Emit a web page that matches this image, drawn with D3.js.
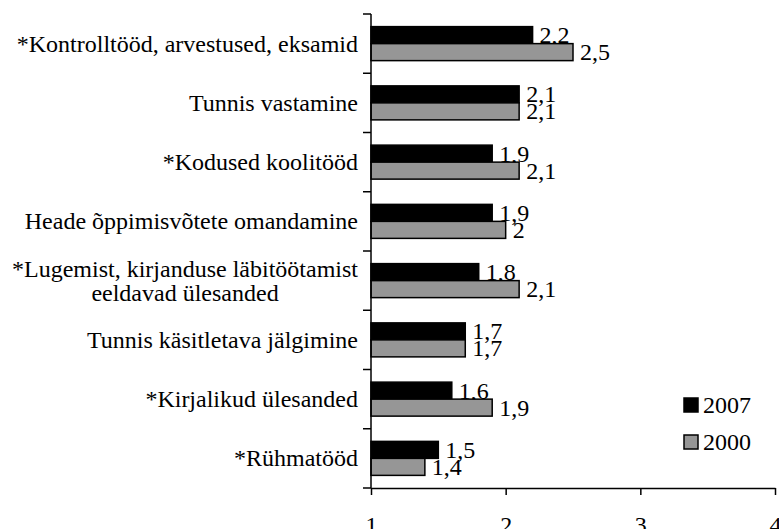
<!DOCTYPE html>
<html>
<head>
<meta charset="utf-8">
<script src="https://cdn.jsdelivr.net/npm/d3@7"></script>
</head>
<body style="margin:0">
<svg id="s" width="779" height="529"></svg>
<script>
const categories = [
  ["*Kontrolltööd, arvestused, eksamid"],
  ["Tunnis vastamine"],
  ["*Kodused koolitööd"],
  ["Heade õppimisvõtete omandamine"],
  ["*Lugemist, kirjanduse läbitöötamist", "eeldavad ülesanded"],
  ["Tunnis käsitletava jälgimine"],
  ["*Kirjalikud ülesanded"],
  ["*Rühmatööd"]
];
const values2007 = [2.2, 2.1, 1.9, 1.9, 1.8, 1.7, 1.6, 1.5];
const values2000 = [2.5, 2.1, 2.1, 2.0, 2.1, 1.7, 1.9, 1.4];
const seriesNames = ["2007", "2000"];
const seriesColors = ["#000000", "#969696"];
const xTicks = [1, 2, 3, 4];

const fontSize = 24;
const FONT = "Liberation Serif";
const svg = d3.select("#s");

function serif(sel) {
  return sel.attr("font-family", FONT)
    .attr("font-size", fontSize)
    .style("font-family", "'Liberation Serif', 'Times New Roman', Tinos", "important")
    .style("font-size", fontSize + "px", "important");
}

const x = d3.scaleLinear().domain([1, 4]).range([371, 775]);
const idx = d3.range(categories.length);
const y = d3.scaleBand().domain(idx).range([14, 488]).paddingInner(0).paddingOuter(0);
const barH = 17;

const fmt = v => String(v).replace(".", ",");

// bars
const series = [values2007, values2000];
series.forEach((vals, s) => {
  const g = svg.append("g");
  g.selectAll("rect").data(vals).join("rect")
    .attr("x", x(1))
    .attr("y", (d, i) => y(i) + (y.bandwidth() - 2 * barH) / 2 + s * barH)
    .attr("width", d => x(d) - x(1))
    .attr("height", barH)
    .attr("fill", seriesColors[s])
    .attr("stroke", "#000")
    .attr("stroke-width", 1.5);
  const t = g.selectAll("text").data(vals).join("text")
    .attr("x", d => x(d) + 7)
    .attr("y", (d, i) => y(i) + (y.bandwidth() - 2 * barH) / 2 + s * barH + barH - 0.5)
    .attr("fill", "#000")
    .text(d => fmt(d));
  serif(t);
});

// y axis line and ticks at band boundaries
const yAxisG = svg.append("g");
yAxisG.append("line")
  .attr("x1", x(1)).attr("x2", x(1))
  .attr("y1", y.range()[0]).attr("y2", y.range()[1])
  .attr("stroke", "#000").attr("stroke-width", 1.5);
const boundaries = d3.range(categories.length + 1).map(i => y.range()[0] + i * y.step());
yAxisG.selectAll("line.tick").data(boundaries).join("line")
  .attr("class", "tick")
  .attr("x1", x(1) - 8).attr("x2", x(1))
  .attr("y1", d => d).attr("y2", d => d)
  .attr("stroke", "#000").attr("stroke-width", 1.5);

// x axis
const xAxisG = svg.append("g").attr("transform", `translate(0,${y.range()[1]})`)
  .call(d3.axisBottom(x).tickValues(xTicks).tickSize(7).tickSizeOuter(0).tickFormat(d3.format("d")).tickPadding(21));
xAxisG.attr("font-family", FONT).attr("font-size", fontSize);
xAxisG.select(".domain").attr("stroke", "#000").attr("stroke-width", 1.5);
xAxisG.selectAll(".tick line").attr("stroke", "#000").attr("stroke-width", 1.5);
serif(xAxisG.selectAll(".tick text").attr("fill", "#000"));

// category labels
const labelX = 358;
categories.forEach((lines, i) => {
  const cy = y(i) + y.bandwidth() / 2;
  if (lines.length === 1) {
    serif(svg.append("text")
      .attr("x", labelX).attr("y", cy).attr("dy", "0.33em")
      .attr("text-anchor", "end"))
      .text(lines[0]);
  } else {
    const t1 = serif(svg.append("text")
      .attr("x", labelX).attr("y", cy - 11.5).attr("dy", "0.33em")
      .attr("text-anchor", "end"))
      .text(lines[0]);
    const w = t1.node().getComputedTextLength();
    serif(svg.append("text")
      .attr("x", labelX - w / 2).attr("y", cy + 12).attr("dy", "0.33em")
      .attr("text-anchor", "middle"))
      .text(lines[1]);
  }
});

// legend
const legend = svg.append("g");
seriesNames.forEach((name, s) => {
  const ly = 405 + s * 37;
  legend.append("rect")
    .attr("x", 684).attr("y", ly - 7).attr("width", 14).attr("height", 14)
    .attr("fill", seriesColors[s]).attr("stroke", "#000").attr("stroke-width", 1.5);
  serif(legend.append("text")
    .attr("x", 703).attr("y", ly).attr("dy", "0.35em"))
    .text(name);
});
</script>
</body>
</html>
